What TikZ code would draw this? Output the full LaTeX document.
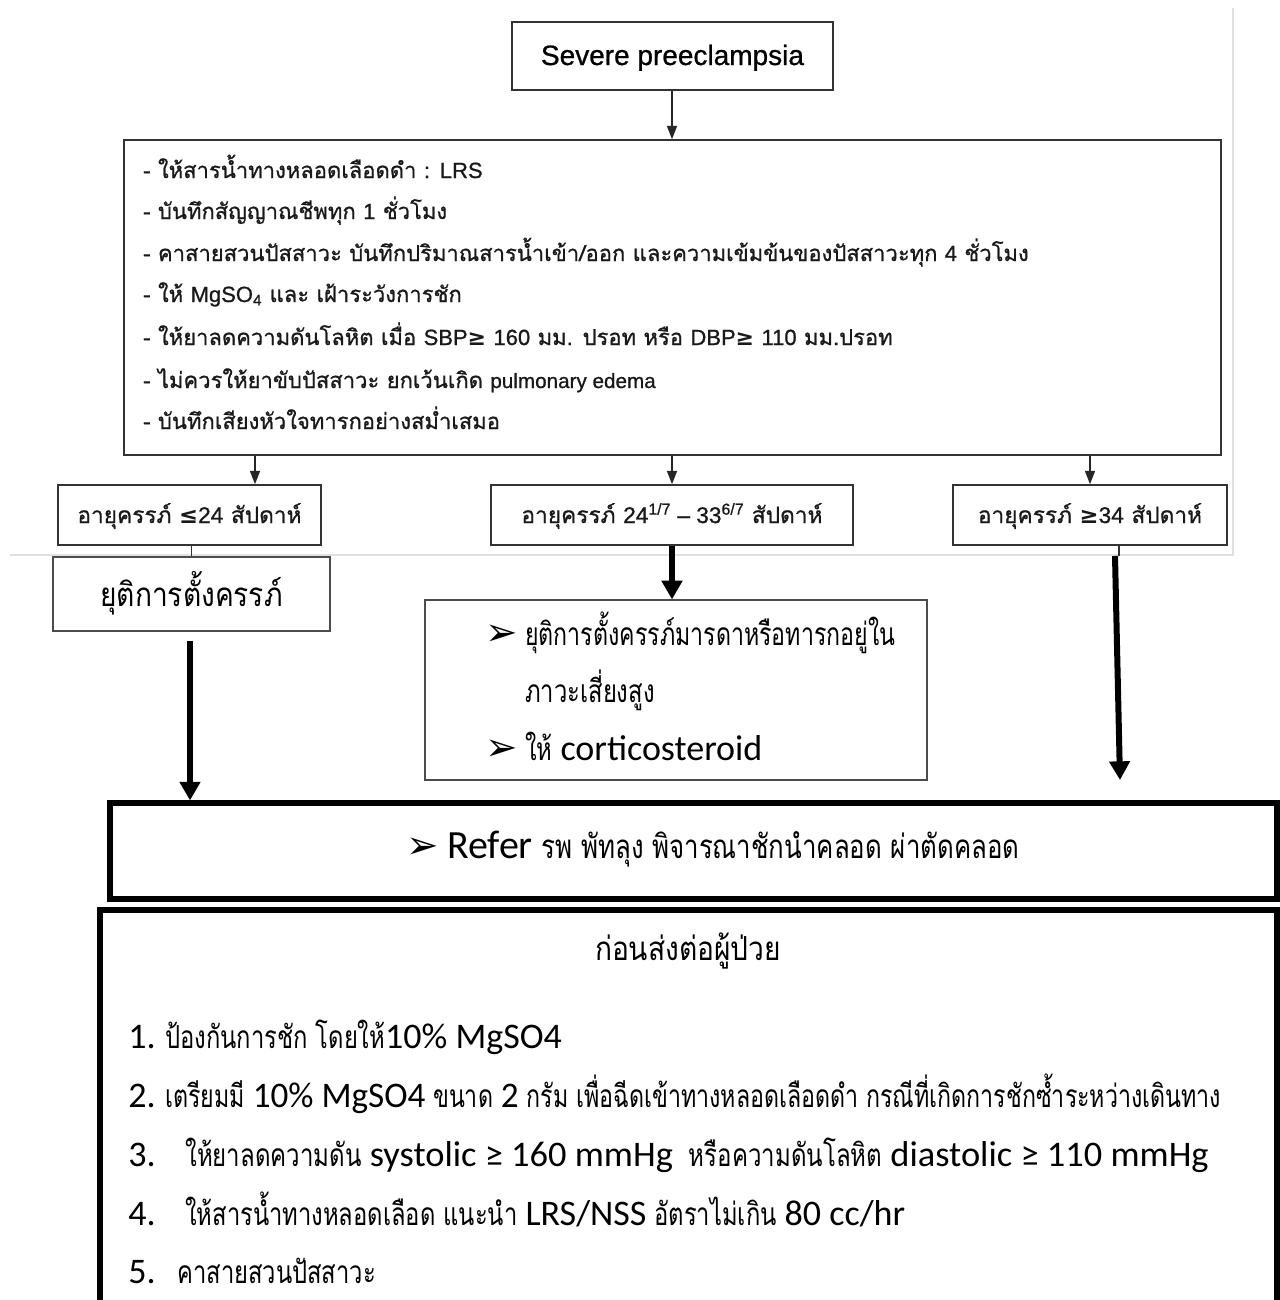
\documentclass[tikz,border=0pt]{standalone}
\usepackage{fontspec}
\usetikzlibrary{arrows.meta}
\newfontfamily\thaiup[Script=Thai, FakeBold=0.8]{Loma}
\newfontfamily\thn[Script=Thai, FakeStretch=0.75, Scale=0.88]{Loma}
\newfontfamily\thr[Script=Thai, FakeStretch=0.78, Scale=0.92]{Loma}
\newfontfamily\tht[Script=Thai, FakeStretch=0.85, Scale=0.92]{Loma}
\newfontfamily\arifont[FakeBold=0.8]{Liberation Sans}
\newfontfamily\carlfont{Carlito}
\newfontfamily\djvfont{DejaVu Sans}
\newcommand\la[1]{{\arifont #1}}
\newcommand\ca[1]{{\carlfont #1}}
\newcommand\sy[1]{{\djvfont #1}}
\begin{document}
\begin{tikzpicture}[x=0.75pt,y=-0.75pt,
  thinbox/.style={draw=black!80, line width=1.2pt, inner sep=0pt},
  lightbox/.style={draw=black!70, line width=0.9pt, inner sep=0pt},
  heavybox/.style={draw=black, line width=3.8pt, inner sep=0pt},
  uptext/.style={font=\thaiup\fontsize{16.5}{20}\selectfont, anchor=base west, inner sep=0pt, text=black!90},
  agetext/.style={font=\thaiup\fontsize{17}{20}\selectfont, anchor=base, inner sep=0pt, text=black!90},
  lowtext/.style={font=\thn\fontsize{27}{32}\selectfont, anchor=base west, inner sep=0pt},
  bullet/.style={font=\djvfont\fontsize{29}{32}\selectfont, anchor=base west, inner sep=0pt},
  thinarr/.style={draw=black!85, line width=1.1pt, -{Triangle[width=7.5pt,length=10pt]}},
  thickarr/.style={draw=black, line width=4.5pt, -{Triangle[width=15pt,length=14pt]}},
  frameline/.style={draw=black!12, line width=0.8pt}
]
\clip (0,0) rectangle (1280,1300);
\fill[white] (0,0) rectangle (1280,1300);
% faint frame of the embedded image
\coordinate (fa) at (1233,8);
\coordinate (fb) at (1233,555);
\coordinate (fc) at (10,555);
\draw[frameline] (fa) -- (fb) -- (fc);

% boxes
\node[thinbox, minimum width=240.75pt, minimum height=51pt] (sev) at (672.5,56) {};
\node[font=\arifont\fontsize{21}{25}\selectfont, anchor=base, inner sep=0pt] (sevt) at (672.5,65) {Severe preeclampsia};

\node[thinbox, minimum width=822.75pt, minimum height=236.25pt] (big) at (672.5,297.5) {};
\node[uptext] (t1) at (143,178) {- ให้สารน้ำทางหลอดเลือดดำ : \la{LRS}};
\node[uptext] (t2) at (143,219) {- บันทึกสัญญาณชีพทุก \la{1} ชั่วโมง};
\node[uptext] (t3) at (143,261) {- คาสายสวนปัสสาวะ บันทึกปริมาณสารน้ำเข้า/ออก และความเข้มข้นของปัสสาวะทุก \la{4} ชั่วโมง};
\node[uptext] (t4) at (143,302) {- ให้ \la{MgSO\textsubscript{4}} และ เฝ้าระวังการชัก};
\node[uptext] (t5) at (143,345) {- ให้ยาลดความดันโลหิต เมื่อ \la{SBP}\sy{\bfseries ≥} \la{160} มม. ปรอท หรือ \la{DBP}\sy{\bfseries ≥} \la{110} มม.ปรอท};
\node[uptext] (t6) at (143,388) {- ไม่ควรให้ยาขับปัสสาวะ ยกเว้นเกิด {\arifont\fontsize{15.5}{18}\selectfont pulmonary edema}};
\node[uptext] (t7) at (143,429) {- บันทึกเสียงหัวใจทารกอย่างสม่ำเสมอ};

\node[thinbox, minimum width=197.25pt, minimum height=45pt] (lage) at (189.5,515) {};
\node[agetext] (lagt) at (189.5,523) {อายุครรภ์ \sy{\bfseries ≤}\la{24} สัปดาห์};
\node[thinbox, minimum width=271.5pt, minimum height=45pt] (mage) at (672,515) {};
\node[agetext] (magt) at (672,523) {อายุครรภ์ \la{24\textsuperscript{1/7} – 33\textsuperscript{6/7}} สัปดาห์};
\node[thinbox, minimum width=205.5pt, minimum height=45pt] (rage) at (1090,515) {};
\node[agetext] (ragt) at (1090,523) {อายุครรภ์ \sy{\bfseries ≥}\la{34} สัปดาห์};

\node[lightbox, minimum width=207.75pt, minimum height=55.5pt] (lbox) at (191.5,594) {};
\node[font=\tht\fontsize{27}{30}\selectfont, anchor=base, inner sep=0pt] (lbt) at (191.5,606) {ยุติการตั้งครรภ์};

\node[lightbox, minimum width=376.5pt, minimum height=135pt] (mbox) at (676,690) {};
\node[bullet] (mb1) at (485,645) {➢};
\node[lowtext] (mt1) at (525,645) {\scalebox{0.975}[1]{ยุติการตั้งครรภ์มารดาหรือทารกอยู่ใน}};
\node[lowtext] (mt2) at (525,702) {ภาวะเสี่ยงสูง};
\node[bullet] (mb2) at (485,760) {➢};
\node[lowtext] (mt3) at (525,760) {ให้ \ca{corticosteroid}};

\node[heavybox, minimum width=875.25pt, minimum height=72pt] (refer) at (693.5,851) {};
\node[bullet] (rb) at (406,858) {➢};
\node[font=\thr\fontsize{27}{32}\selectfont, anchor=base west, inner sep=0pt] (rt) at (447,858) {\ca{\fontsize{30}{34}\selectfont Refer} รพ พัทลุง พิจารณาชักนำคลอด ผ่าตัดคลอด};

\node[heavybox, minimum width=882.75pt, minimum height=300pt] (prep) at (688.5,1110) {};
\node[font=\tht\fontsize{27}{32}\selectfont, anchor=base, inner sep=0pt] (ptitle) at (688,960) {ก่อนส่งต่อผู้ป่วย};
\node[lowtext] (n1) at (128,1048) {\ca{1.}};
\node[lowtext] (i1) at (165,1048) {ป้องกันการชัก โดยให้\ca{10\% MgSO4}};
\node[lowtext] (n2) at (128,1107) {\ca{2.}};
\node[lowtext] (i2) at (165,1107) {\scalebox{0.977}[1]{เตรียมมี \ca{10\% MgSO4} ขนาด \ca{2} กรัม เพื่อฉีดเข้าทางหลอดเลือดดำ กรณีที่เกิดการชักซ้ำระหว่างเดินทาง}};
\node[lowtext] (n3) at (128,1166) {\ca{3.}};
\node[lowtext] (i3) at (185,1166) {\scalebox{1.012}[1]{ให้ยาลดความดัน \ca{systolic ≥ 160 mmHg}\enspace หรือความดันโลหิต \ca{diastolic ≥ 110 mmHg}}};
\node[lowtext] (n4) at (128,1225) {\ca{4.}};
\node[lowtext] (i4) at (185,1225) {ให้สารน้ำทางหลอดเลือด แนะนำ \ca{LRS/NSS} อัตราไม่เกิน \ca{80 cc/hr}};
\node[lowtext] (n5) at (128,1283) {\ca{5.}};
\node[lowtext] (i5) at (177,1283) {คาสายสวนปัสสาวะ};

% connectors
\draw[thinarr] (sev.south -| 672,0) -- (big.north -| 672,0);
\draw[thinarr] (big.south -| 255,0) -- (lage.north -| 255,0);
\draw[thinarr] (big.south -| 672,0) -- (mage.north -| 672,0);
\draw[thinarr] (big.south -| 1090,0) -- (rage.north -| 1090,0);
\draw[draw=black!80, line width=0.9pt] (lage.south -| lbox.north) -- (lbox.north);
\draw[thickarr] (mage.south -| 672,0) -- (mbox.north -| 672,0);
\coordinate (ltop) at (190,641);
\draw[thickarr] (ltop) -- (refer.north -| ltop);
\coordinate (rstub) at (1119,556);
\draw[draw=black!80, line width=0.9pt] (rage.south -| rstub) -- (rstub);
\coordinate (rtop) at (1115,556);
\coordinate (rend) at (1120,780);
\draw[thickarr] (rtop) -- (rend);
\end{tikzpicture}
\end{document}
